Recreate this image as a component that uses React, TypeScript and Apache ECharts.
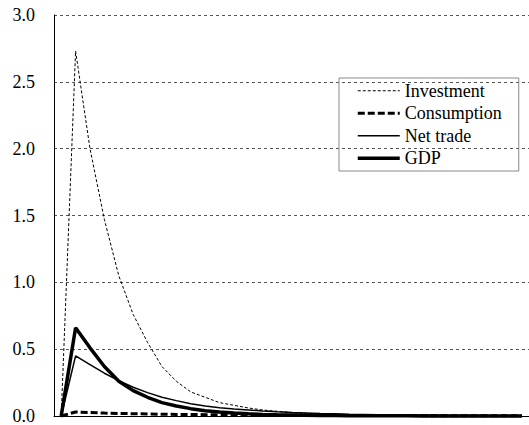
import React, { useEffect, useRef } from "react";
import * as echarts from "echarts";

const periods: string[] = Array.from({ length: 33 }, (_, i) => String(i));
const yTicks = [0, 0.5, 1.0, 1.5, 2.0, 2.5, 3.0];

const investment = [0, 2.73, 2.0, 1.47, 1.05, 0.76, 0.55, 0.37, 0.26, 0.18, 0.14, 0.10, 0.08, 0.06, 0.045, 0.035, 0.027, 0.02, 0.015, 0.012, 0.009, 0.007, 0.005, 0.004, 0.003, 0.002, 0.002, 0.001, 0.001, 0.001, 0, 0, 0];
const consumption = [0, 0.03, 0.026, 0.022, 0.019, 0.017, 0.015, 0.013, 0.012, 0.011, 0.010, 0.009, 0.008, 0.007, 0.007, 0.006, 0.006, 0.005, 0.005, 0.004, 0.004, 0.004, 0.003, 0.003, 0.003, 0.003, 0.002, 0.002, 0.002, 0.002, 0.002, 0.002, 0.002];
const netTrade = [0, 0.45, 0.385, 0.32, 0.265, 0.215, 0.175, 0.14, 0.115, 0.092, 0.075, 0.062, 0.052, 0.045, 0.038, 0.032, 0.027, 0.023, 0.019, 0.016, 0.013, 0.011, 0.009, 0.008, 0.007, 0.006, 0.005, 0.004, 0.003, 0.003, 0.002, 0.002, 0.002];
const gdp = [0, 0.66, 0.51, 0.37, 0.26, 0.19, 0.14, 0.10, 0.075, 0.055, 0.04, 0.03, 0.022, 0.016, 0.012, 0.009, 0.007, 0.005, 0.004, 0.003, 0.002, 0.002, 0.001, 0.001, 0.001, 0, 0, 0, 0, 0, 0, 0, 0];

const FONT = "Times New Roman, Liberation Serif, DejaVu Serif, serif";

const styles: Record<string, { width: number; type: any }> = {
  Investment: { width: 1, type: [3, 2] },
  Consumption: { width: 3, type: [7, 3] },
  "Net trade": { width: 1.5, type: "solid" },
  GDP: { width: 3.5, type: "solid" },
};

export default function App() {
  const ref = useRef<HTMLDivElement>(null);
  useEffect(() => {
    if (!ref.current) return;
    const chart = echarts.init(ref.current, undefined, { renderer: "svg" });
    const mk = (name: string, data: number[]) => ({
      name,
      type: "line",
      data,
      symbol: "none",
      silent: true,
      clip: false,
      lineStyle: { color: "#000", ...styles[name] },
      itemStyle: { color: "#000" },
    });
    chart.setOption({
      animation: false,
      backgroundColor: "#fff",
      textStyle: { fontFamily: FONT },
      grid: { left: 54, width: 490, top: 15, bottom: 6.5 },
      legend: {
        orient: "vertical",
        left: 339,
        top: 78,
        padding: [2, 17, 2, 17],
        borderColor: "#888",
        borderWidth: 1,
        itemWidth: 42,
        itemHeight: 14,
        itemGap: 1,
        data: Object.keys(styles).map((name) => ({
          name,
          lineStyle: { color: "#000", ...styles[name] },
        })),
        itemStyle: { color: "rgba(0,0,0,0)", borderColor: "rgba(0,0,0,0)", borderWidth: 0 },
        textStyle: { fontFamily: FONT, fontSize: 18, color: "#000", lineHeight: 21.5 },
      },
      xAxis: {
        type: "category",
        data: periods,
        boundaryGap: true,
        axisLine: { lineStyle: { color: "#000", width: 1 } },
        axisTick: { inside: true, length: 3, lineStyle: { color: "#777" } },
        axisLabel: { show: false },
        splitLine: { show: false },
      },
      yAxis: {
        type: "value",
        min: 0,
        max: 3,
        interval: 0.5,
        axisLine: { show: true, lineStyle: { color: "#000", width: 1 } },
        axisTick: { show: false },
        axisLabel: {
          fontFamily: FONT,
          fontSize: 18,
          color: "#000",
          margin: 19,
          formatter: (v: number) => (yTicks.includes(v) ? v.toFixed(1) : ""),
        },
        splitLine: { show: true, lineStyle: { color: "#555", type: [3, 3], width: 1 } },
      },
      series: [
        mk("Investment", investment),
        mk("Consumption", consumption),
        mk("Net trade", netTrade),
        mk("GDP", gdp),
      ],
    });
    return () => chart.dispose();
  }, []);
  return <div ref={ref} style={{ position: "fixed", left: 0, top: 0, width: 529, height: 425 }} />;
}
